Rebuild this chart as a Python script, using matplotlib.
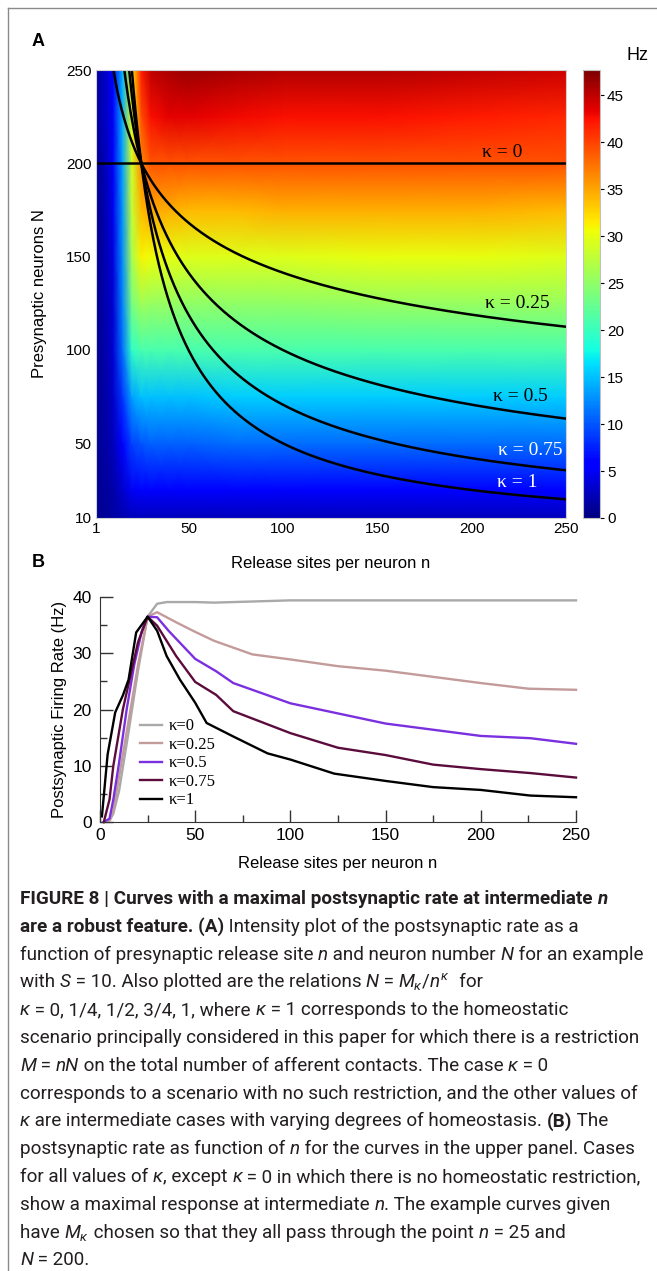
import numpy as np
import matplotlib
matplotlib.use('Agg')
import matplotlib.pyplot as plt
from matplotlib.lines import Line2D

# ---- panel A: postsynaptic rate (Hz) ----
n_grid = [1, 5, 10, 15, 20, 25, 30, 40, 50, 75, 100, 150, 200, 250]
N_grid = [10, 25, 50, 75, 100, 125, 150, 175, 200, 225, 250]
rate_grid = [
    [0.8, 1.0, 1.5, 2.0, 2.5, 2.5, 2.5, 2.5, 2.5, 2.5, 2.5, 2.5, 2.5, 2.5],
    [1.0, 1.2, 1.8, 3.2, 5.0, 5.5, 5.5, 5.5, 5.8, 5.8, 5.8, 5.8, 5.8, 5.8],
    [1.0, 1.4, 2.5, 5.5, 9.0, 10.0, 10.5, 10.5, 10.5, 11.0, 11.0, 11.0, 11.0, 11.0],
    [1.0, 1.4, 3.0, 8.5, 13.5, 15.0, 15.0, 15.0, 15.0, 15.5, 15.5, 15.5, 15.5, 15.5],
    [1.0, 1.5, 3.5, 11.0, 19.5, 21.0, 21.0, 21.0, 21.0, 21.0, 21.0, 21.0, 21.0, 21.0],
    [1.0, 1.8, 3.5, 12.0, 23.5, 26.0, 25.5, 25.5, 25.0, 25.0, 25.0, 25.5, 25.5, 25.5],
    [1.0, 1.8, 4.0, 12.5, 26.5, 31.0, 30.5, 30.0, 29.5, 29.5, 29.5, 30.0, 30.0, 29.5],
    [1.0, 1.8, 4.5, 13.0, 28.0, 34.0, 35.0, 34.5, 34.0, 34.0, 34.5, 34.5, 34.5, 34.0],
    [1.2, 2.0, 5.0, 13.5, 29.0, 36.5, 39.0, 39.2, 39.2, 39.2, 39.3, 39.3, 39.3, 39.3],
    [1.5, 2.5, 5.0, 14.0, 30.5, 39.5, 42.5, 43.5, 43.5, 43.0, 42.5, 42.5, 42.0, 41.5],
    [1.5, 2.5, 5.5, 14.5, 31.5, 42.0, 45.0, 46.0, 46.5, 46.0, 45.5, 45.5, 45.0, 44.5],
]
rate_max = 47.7

# relations N = M_k / n^k, all through n = 25, N = 200 (from the caption)
kappas = [0, 0.25, 0.5, 0.75, 1]
n_cross, N_cross = 25, 200
kappa_labels = ['κ = 0', 'κ = 0.25', 'κ = 0.5', 'κ = 0.75', 'κ = 1']
label_pos = [(216, 206), (224, 125), (226, 75), (231, 46), (224, 29)]
label_colors = ['black', 'black', 'black', 'white', 'white']

# ---- panel B: rate along each curve ----
k0_n = [2, 5, 7, 10, 15, 20, 25, 30, 35, 50, 60, 80, 100, 150, 200, 250]
k0_r = [0, 0.2, 1.5, 5.5, 16, 27, 36.5, 38.8, 39.1, 39.1, 39.0, 39.2, 39.4, 39.4, 39.4, 39.4]
k025_n = [2, 5, 7, 11, 16, 20, 25, 30, 40, 50, 60, 70, 80, 100, 125, 150, 175, 200, 225, 250]
k025_r = [0, 0.3, 2, 10, 20, 28, 36.5, 37.3, 35.5, 33.8, 32.2, 31.0, 29.8, 28.9, 27.7,
          26.9, 25.8, 24.7, 23.7, 23.5]
k05_n = [2, 5, 7, 10, 14, 18, 22, 25, 30, 36, 50, 61, 70, 100, 125, 150, 175, 200, 226, 250]
k05_r = [0, 0.6, 4, 10.5, 20, 28, 34, 36.5, 36.4, 34, 29, 26.8, 24.7, 21.1, 19.3, 17.5,
         16.4, 15.3, 14.9, 13.9]
k075_n = [2, 5, 7, 12, 16, 20, 25, 30, 40, 50, 61, 70, 100, 125, 150, 175, 200, 226, 250]
k075_r = [0, 4, 10, 20, 26, 32, 36.5, 34.9, 29.5, 24.9, 22.6, 19.7, 15.8, 13.2, 11.9,
          10.2, 9.4, 8.7, 7.9]
k1_n = [1, 4, 8, 12, 15, 19, 25, 30, 35, 42, 50, 56, 70, 88, 100, 123, 150, 175, 200, 226, 250]
k1_r = [1.0, 12, 19.5, 22.5, 25.3, 33.7, 36.5, 34, 29.5, 25.3, 21.2, 17.6, 15.2, 12.2,
        11.1, 8.6, 7.3, 6.2, 5.7, 4.7, 4.4]
series_b = [(k0_n, k0_r), (k025_n, k025_r), (k05_n, k05_r), (k075_n, k075_r), (k1_n, k1_r)]
legend_b = ['κ=0', 'κ=0.25', 'κ=0.5', 'κ=0.75', 'κ=1']
colors_b = ['#a9a9a9', '#c39b9b', '#7b30e0', '#5c0c3c', 'black']

# ---- caption ----
caption = [
    [('FIGURE 8 | Curves with a maximal postsynaptic rate at intermediate ', 'b'), ('n', 'bi')],
    [('are a robust feature. (A)', 'b'), (' Intensity plot of the postsynaptic rate as a', 'r')],
    [('function of presynaptic release site ', 'r'), ('n', 'i'), (' and neuron number ', 'r'),
     ('N', 'i'), (' for an example', 'r')],
    [('with ', 'r'), ('S', 'i'), (' = 10. Also plotted are the relations ', 'r'), ('N', 'i'),
     (' = ', 'r'), (r'$M_\kappa/n^\kappa$', 'm'), ('  for', 'r')],
    [('κ', 'i'), (' = 0, 1/4, 1/2, 3/4, 1, where ', 'r'), ('κ', 'i'),
     (' = 1 corresponds to the homeostatic', 'r')],
    [('scenario principally considered in this paper for which there is a restriction', 'r')],
    [('M', 'i'), (' = ', 'r'), ('nN', 'i'), (' on the total number of afferent contacts. The case ', 'r'),
     ('κ', 'i'), (' = 0', 'r')],
    [('corresponds to a scenario with no such restriction, and the other values of', 'r')],
    [('κ', 'i'), (' are intermediate cases with varying degrees of homeostasis. ', 'r'),
     ('(B)', 'b'), (' The', 'r')],
    [('postsynaptic rate as function of ', 'r'), ('n', 'i'),
     (' for the curves in the upper panel. Cases', 'r')],
    [('for all values of ', 'r'), ('κ', 'i'), (', except ', 'r'), ('κ', 'i'),
     (' = 0 in which there is no homeostatic restriction,', 'r')],
    [('show a maximal response at intermediate ', 'r'), ('n', 'i'),
     ('. The example curves given', 'r')],
    [('have ', 'r'), (r'$M_\kappa$', 'm'), (' chosen so that they all pass through the point ', 'r'),
     ('n', 'i'), (' = 25 and', 'r')],
    [('N', 'i'), (' = 200.', 'r')],
]

CAP_FAM = ['Roboto', 'DejaVu Sans']
SANS = ['Liberation Sans', 'DejaVu Sans']
SERIF = ['Liberation Serif', 'DejaVu Serif']

plt.rcParams['font.family'] = SANS
plt.rcParams['mathtext.fontset'] = 'custom'
plt.rcParams['mathtext.rm'] = 'Roboto'
plt.rcParams['mathtext.it'] = 'Roboto:italic'
plt.rcParams['mathtext.bf'] = 'Roboto:bold'

W, H = 657, 1271
fig = plt.figure(figsize=(W / 100, H / 100), dpi=100)


def fx(px):
    return px / W


def fy(py):
    return 1 - py / H


# frame around the figure block
fig.add_artist(Line2D([fx(8), 1], [fy(8), fy(8)], color='#8a8a8a', lw=1))
fig.add_artist(Line2D([fx(8), fx(8)], [fy(8), 0], color='#8a8a8a', lw=1))

# ---------------- panel A ----------------
axA = fig.add_axes([fx(96), fy(518), fx(566) - fx(96), fy(70) - fy(518)])
mesh = axA.pcolormesh(n_grid, N_grid, np.array(rate_grid), cmap='jet', vmin=0, vmax=rate_max,
                      shading='gouraud')
n_line = np.linspace(1, 250, 500)
for k in kappas:
    axA.plot(n_line, N_cross * (n_cross / n_line) ** k, color='black', lw=1.8)
for lab, (lx, ly), c in zip(kappa_labels, label_pos, label_colors):
    axA.text(lx, ly, lab, color=c, family=SERIF, fontsize=14, ha='center', va='center')
axA.set_xlim(1, 250)
axA.set_ylim(10, 250)
axA.set_xticks([1, 50, 100, 150, 200, 250])
axA.set_yticks([10, 50, 100, 150, 200, 250])
axA.tick_params(length=0, labelsize=11, pad=3)
for s in axA.spines.values():
    s.set_color('#d0d0d0')
    s.set_linewidth(0.8)
axA.set_xlabel('Release sites per neuron n', fontsize=12, labelpad=14)
axA.set_ylabel('Presynaptic neurons N', fontsize=12, labelpad=14)

cax = fig.add_axes([fx(583), fy(518), fx(600) - fx(583), fy(70) - fy(518)])
cb = fig.colorbar(mesh, cax=cax)
cb.set_ticks([0, 5, 10, 15, 20, 25, 30, 35, 40, 45])
cb.ax.tick_params(labelsize=11, length=3, direction='out', pad=2)
cb.outline.set_edgecolor('#c0c0c0')
cb.outline.set_linewidth(0.8)
fig.text(fx(637), fy(55), 'Hz', fontsize=13, ha='center', va='center')

fig.text(fx(38), fy(42), 'A', fontsize=13, fontweight='bold', ha='center', va='center')
fig.text(fx(38), fy(563), 'B', fontsize=13, fontweight='bold', ha='center', va='center')

# ---------------- panel B ----------------
axB = fig.add_axes([fx(100), fy(822), fx(576) - fx(100), fy(597) - fy(822)])
for (xs, ys), lab, c in zip(series_b, legend_b, colors_b):
    axB.plot(xs, ys, color=c, lw=1.7, label=lab, clip_on=False)
axB.set_xlim(0, 250)
axB.set_ylim(0, 40)
axB.set_xticks([0, 50, 100, 150, 200, 250])
axB.set_xticks([25, 75, 125, 175, 225], minor=True)
axB.set_yticks([0, 10, 20, 30, 40])
axB.set_yticks([5, 15, 25, 35], minor=True)
axB.tick_params(which='major', direction='in', length=9, width=1, labelsize=12.5, color='#333333')
axB.tick_params(which='minor', direction='in', length=5, width=1, color='#333333')
axB.tick_params(axis='x', pad=4)
axB.tick_params(axis='y', pad=6)
for side in ['top', 'right']:
    axB.spines[side].set_visible(False)
for side in ['left', 'bottom']:
    axB.spines[side].set_color('#333333')
axB.set_xlabel('Release sites per neuron n', fontsize=12, labelpad=10)
axB.set_ylabel('Postsynaptic Firing Rate (Hz)', fontsize=12, labelpad=4)
axB.legend(loc='upper left', bbox_to_anchor=(0.07, 0.49), frameon=False,
           prop={'family': SERIF, 'size': 12}, handlelength=1.3, handletextpad=0.4,
           labelspacing=0.15, borderaxespad=0)

# ---------------- caption ----------------
renderer = fig.canvas.get_renderer()
styles = {
    'r': dict(fontweight='normal', fontstyle='normal'),
    'b': dict(fontweight='bold', fontstyle='normal'),
    'i': dict(fontweight='normal', fontstyle='italic'),
    'bi': dict(fontweight='bold', fontstyle='italic'),
    'm': dict(fontweight='normal', fontstyle='normal'),
}
y0, dy = 904, 27.8
x0 = 20


def draw_caption(fs):
    made = []
    widest = 0
    for i, segs in enumerate(caption):
        x = fx(x0)
        y = fy(y0 + i * dy)
        for txt, kind in segs:
            t = fig.text(x, y, txt, fontsize=fs, family=CAP_FAM, va='baseline', ha='left',
                         color='#231f20', **styles[kind])
            made.append(t)
            x += t.get_window_extent(renderer).width / fig.bbox.width
        widest = max(widest, x - fx(x0))
    return made, widest


made, widest = draw_caption(14)
for t in made:
    t.remove()
draw_caption(14 * fx(628) / widest)

fig.savefig('out.png', dpi=100)
